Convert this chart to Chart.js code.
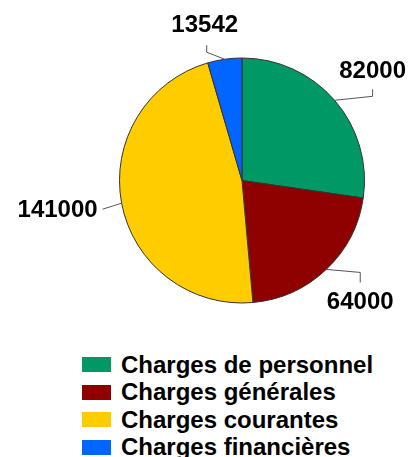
<!DOCTYPE html>
<html lang="fr">
<head>
<meta charset="UTF-8">
<title>Charges</title>
<script src="https://cdn.jsdelivr.net/npm/chart.js"></script>
<style>
    body {
        margin: 0;
        background: #fff;
        font-family: "Liberation Sans", Arial, sans-serif;
    }
    #wrap {
        position: relative;
        width: 419px;
        height: 457px;
    }
    #chartBox {
        position: absolute;
        left: 0;
        top: 0;
        width: 419px;
        height: 340px;
    }
    #legend {
        position: absolute;
        left: 82px;
        top: 351px;
    }
    .row {
        display: flex;
        align-items: center;
        height: 27.5px;
        font-weight: bold;
        font-size: 24px;
        color: #000;
        white-space: nowrap;
    }
    .box {
        width: 29px;
        height: 15px;
        margin-right: 10px;
    }
</style>
</head>
<body>
<div id="wrap">
    <div id="chartBox"><canvas id="pie"></canvas></div>
    <div id="legend"></div>
</div>
<script>
    // data
    const labels = ['Charges de personnel', 'Charges générales', 'Charges courantes', 'Charges financières'];
    const values = [82000, 64000, 141000, 13542];
    const colors = ['#009966', '#8f0000', '#ffcc00', '#0066ff'];

    // leader line layout per slice, relative to the point on the rim
    const leaders = [
        { elbow: [38, -4], end: [38, -11], text: [38, -29], align: 'center' },
        { elbow: [34, 3], end: [34, 13], text: [34, 33], align: 'center' },
        { elbow: [-19, 6], end: [-19, 6], text: [-24, 7], align: 'right' },
        { elbow: [-18, -7], end: [-18, -14], text: [-20, -34], align: 'center' }
    ];

    const labelPlugin = {
        id: 'valueLabels',
        afterDatasetsDraw(chart) {
            const ctx = chart.ctx;
            const meta = chart.getDatasetMeta(0);
            ctx.save();
            meta.data.forEach((arc, i) => {
                const mid = (arc.startAngle + arc.endAngle) / 2;
                const x0 = arc.x + Math.cos(mid) * arc.outerRadius;
                const y0 = arc.y + Math.sin(mid) * arc.outerRadius;
                const l = leaders[i];
                ctx.strokeStyle = '#555';
                ctx.lineWidth = 1;
                ctx.beginPath();
                ctx.moveTo(x0, y0);
                ctx.lineTo(x0 + l.elbow[0], y0 + l.elbow[1]);
                ctx.lineTo(x0 + l.end[0], y0 + l.end[1]);
                ctx.stroke();
                ctx.fillStyle = '#000';
                ctx.font = 'bold 24px "Liberation Sans", Arial, sans-serif';
                ctx.textAlign = l.align;
                ctx.textBaseline = 'middle';
                ctx.fillText(String(values[i]), x0 + l.text[0], y0 + l.text[1]);
            });
            ctx.restore();
        }
    };

    new Chart(document.getElementById('pie'), {
        type: 'pie',
        data: {
            labels: labels,
            datasets: [{
                data: values,
                backgroundColor: colors,
                borderColor: '#333',
                borderWidth: 1
            }]
        },
        options: {
            responsive: true,
            maintainAspectRatio: false,
            animation: false,
            layout: { padding: { left: 119, right: 54, top: 57, bottom: 36 } },
            plugins: {
                legend: { display: false },
                tooltip: { enabled: false }
            }
        },
        plugins: [labelPlugin]
    });

    // legend below the pie
    const legend = document.getElementById('legend');
    labels.forEach((name, i) => {
        const row = document.createElement('div');
        row.className = 'row';
        row.innerHTML = '<span class="box" style="background:' + colors[i] + '"></span>' + name;
        legend.appendChild(row);
    });
</script>
</body>
</html>
